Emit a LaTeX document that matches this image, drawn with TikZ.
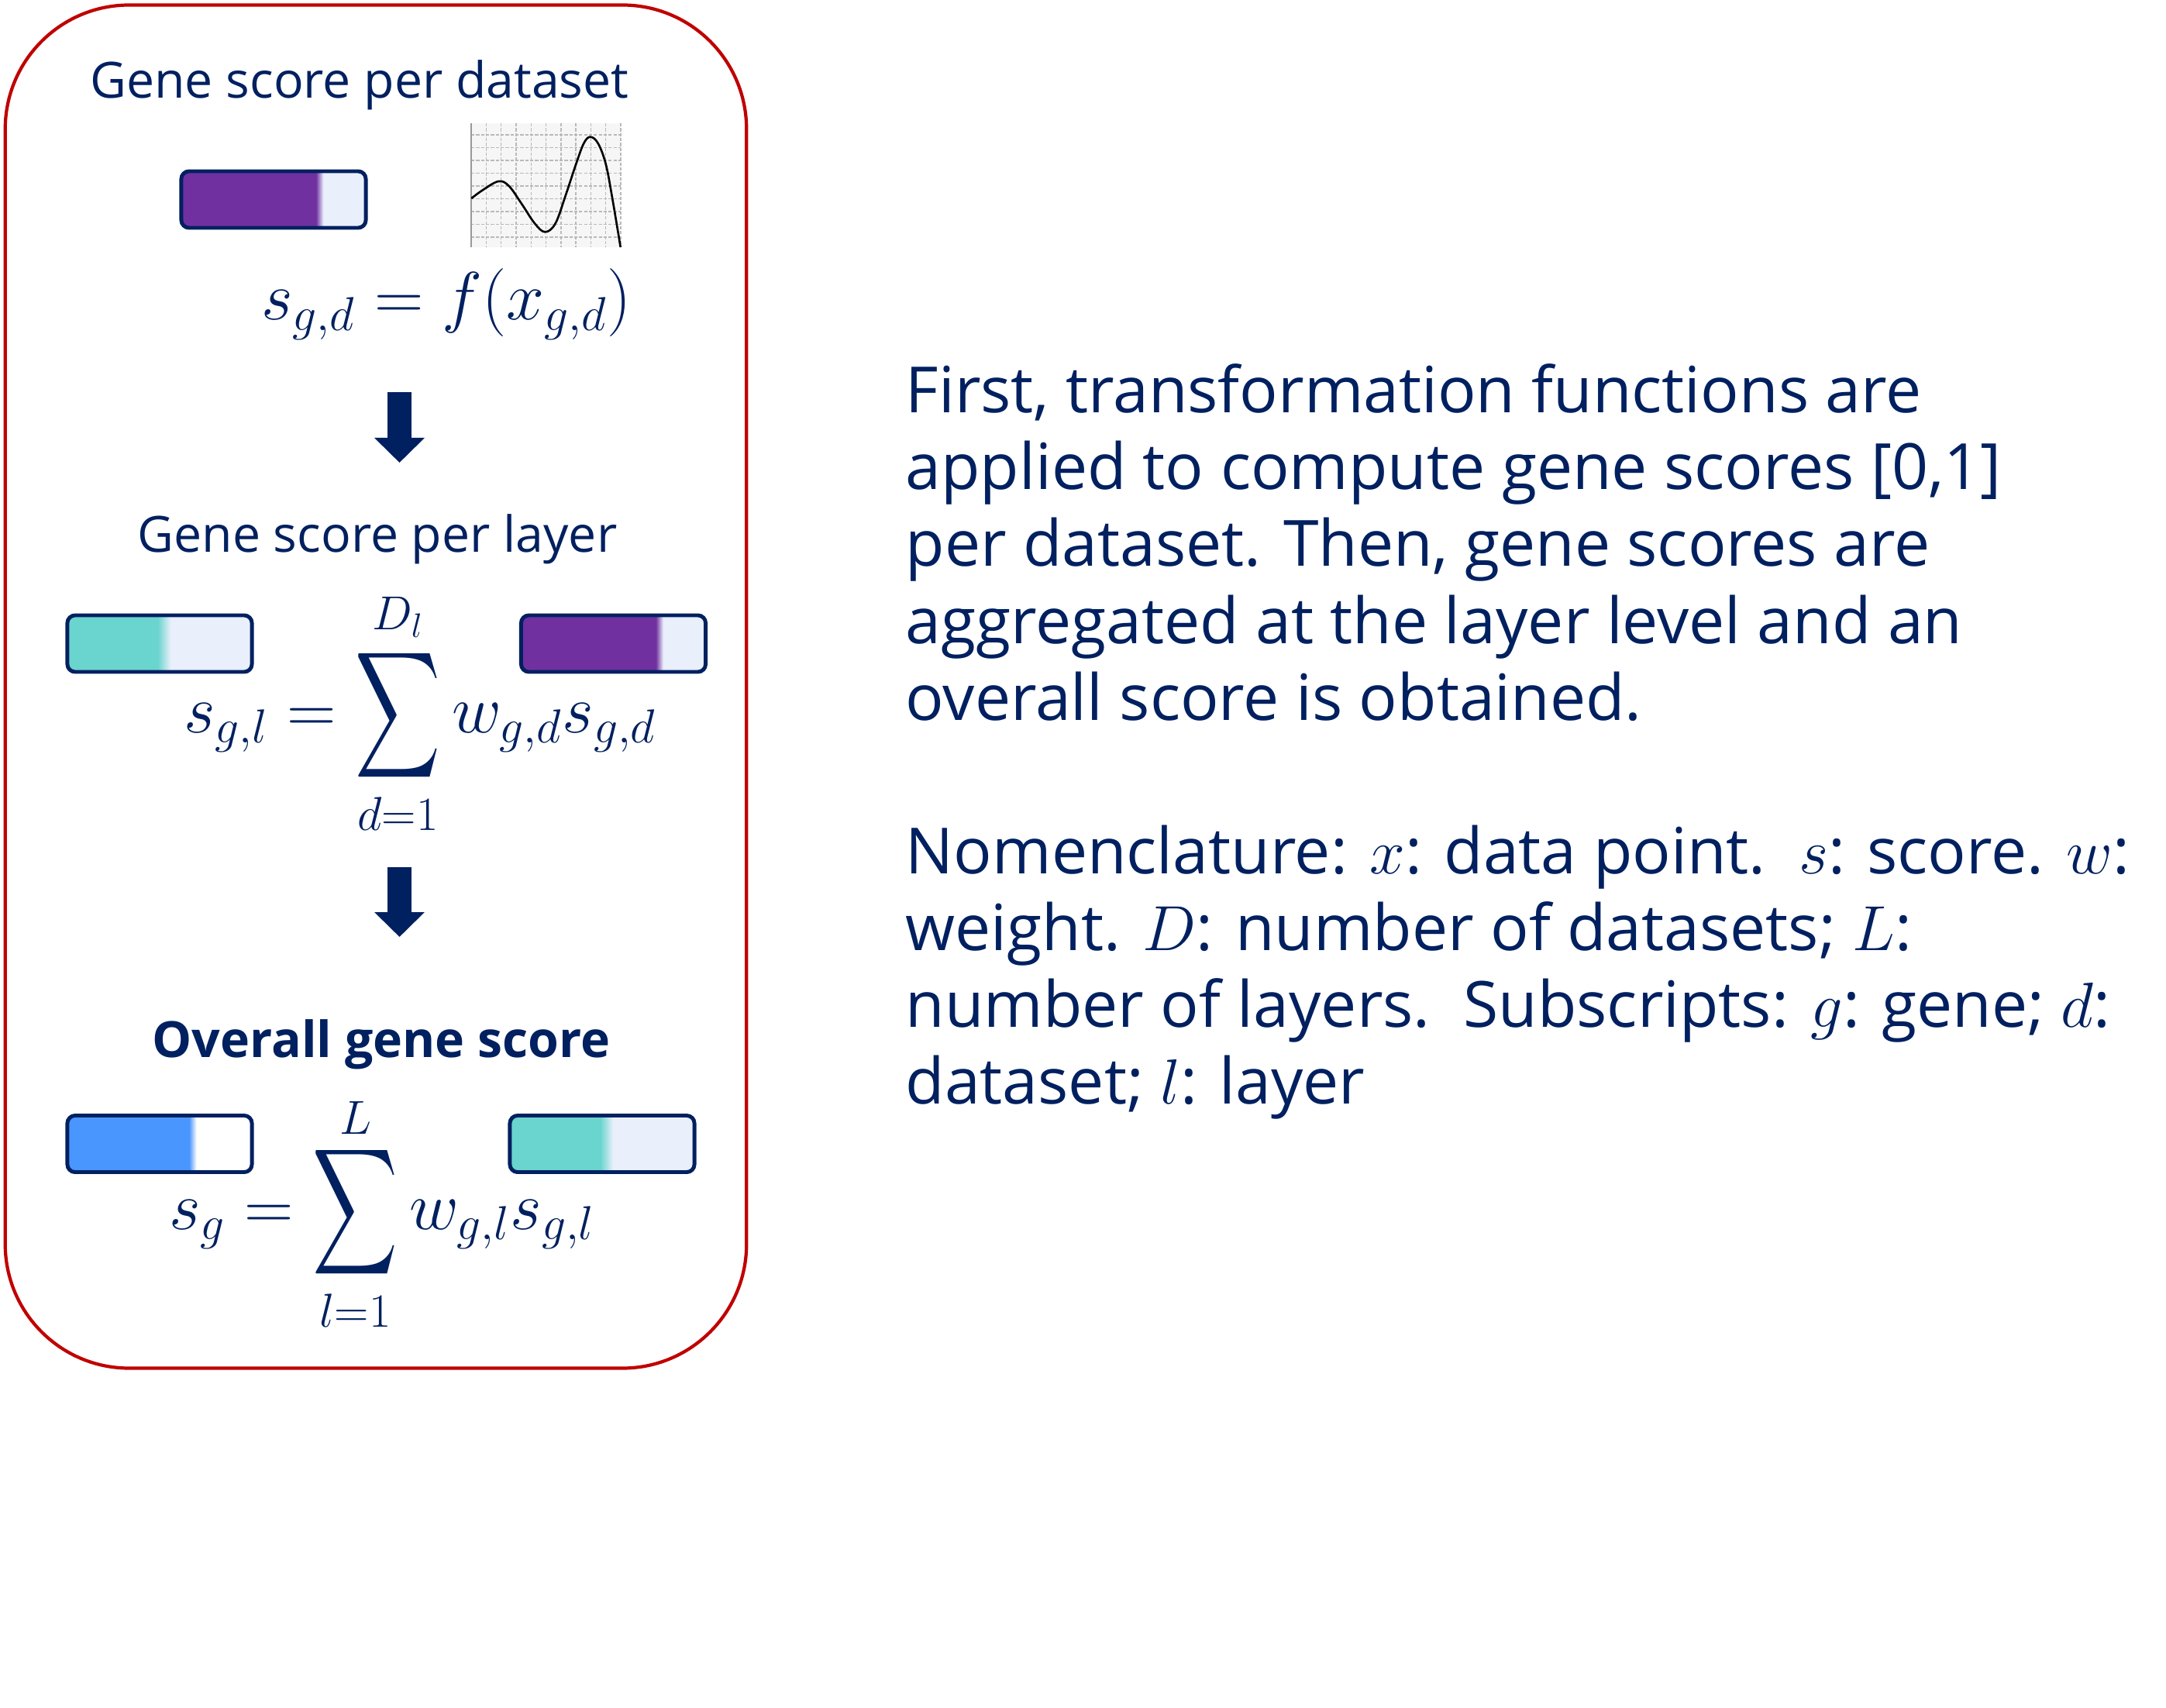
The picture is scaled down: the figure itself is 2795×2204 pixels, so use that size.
\RequirePackage{fix-cm}
\documentclass[tikz,border=0pt]{standalone}
\usepackage{amsmath}
\usepackage{graphicx}
\usepackage[no-math]{fontspec}
\setmainfont{Open Sans}
\usetikzlibrary{arrows.meta}
\definecolor{navy}{HTML}{002060}
\definecolor{framered}{HTML}{C00000}
\definecolor{barpurple}{HTML}{7030A0}
\definecolor{barteal}{HTML}{6AD4CE}
\definecolor{barblue}{HTML}{4A96FF}
\definecolor{barlight}{HTML}{E9EFFB}
\definecolor{graphbg}{HTML}{F6F6F6}
\pgfdeclarehorizontalshading{shpurple}{100bp}{color(0bp)=(barpurple); color(61.5bp)=(barpurple); color(63.5bp)=(barlight); color(100bp)=(barlight)}
\pgfdeclarehorizontalshading{shteal}{100bp}{color(0bp)=(barteal); color(49.5bp)=(barteal); color(53bp)=(barlight); color(100bp)=(barlight)}
\pgfdeclarehorizontalshading{shblue}{100bp}{color(0bp)=(barblue); color(58bp)=(barblue); color(60bp)=(white); color(100bp)=(white)}
\newcommand\tallsum[4]{\mathop{\vcenter{\hbox{\scalebox{0.87}[1.3]{$\displaystyle\sum$}}}}\limits_{\raisebox{#3}[0pt][0pt]{$\scriptstyle #1$}}^{\raisebox{#4}[0pt][0pt]{$\scriptstyle #2$}}}
\tikzset{
  frame/.style={draw=framered, line width=1.2pt, rounded corners=1.6cm, minimum width=9.56cm, minimum height=17.58cm, inner sep=0pt},
  title/.style={text=navy, font=\fontsize{18.3}{22}\selectfont, inner sep=0pt},
  boldtitle/.style={text=navy, font=\fontsize{18.3}{22}\selectfont\bfseries, inner sep=0pt},
  formula/.style={text=navy, font=\fontsize{25}{30}\selectfont, inner sep=0pt},
  bodyline/.style={text=navy, font=\fontsize{23.4}{28}\selectfont, inner sep=0pt, anchor=base west},
  scorebar/.style={draw=navy, line width=1.4pt, rounded corners=0.1cm, minimum width=2.38cm, minimum height=0.73cm, inner sep=0pt, shade, shading=#1},
  blockarrow/.style={draw=navy, line width=8.8pt, -{Triangle[length=9.1pt,width=17.9pt]}},
  gridline/.style={draw=gray!55, line width=0.4pt, dash pattern=on 1.2pt off 0.6pt},
  axisline/.style={draw=gray!80, line width=0.6pt},
  curve/.style={draw=black, line width=0.75pt}
}
\begin{document}
\begin{tikzpicture}[x=0.01cm,y=-0.01cm]
\fill[white] (0,0) rectangle (2795,2204);
\useasboundingbox (0,0) rectangle (2795,2204);

\node[frame] (frame) at (485,886) {};

% stage 1
\node[title, anchor=base] (t1) at (464,127) {Gene score per dataset};
\node[scorebar=shpurple] (b1) at (353,257.5) {};
\fill[graphbg] (608,159) rectangle (801,319);
\foreach \i in {1,...,10} \draw[gridline] ({608+19.3*\i},159) -- ({608+19.3*\i},319);
\foreach \j in {0,...,8} \draw[gridline] (608,{174+16.5*\j}) -- (801,{174+16.5*\j});
\draw[axisline] (608,159) -- (608,319);
\draw[curve] plot[smooth, tension=0.6] coordinates {(608.3,256) (623.3,245) (643.3,234) (656.7,240) (673.3,263.3) (690,288.3) (703.3,299.3) (716.7,288.3) (730,251.7) (743.3,211.7) (753.3,185) (761.7,176.7) (771.7,185) (781.7,211.7) (790,255) (800.7,319)};
\node[formula, anchor=base] (f1) at (576,413) {$s_{g,d} = f(x_{g,d})$};

\coordinate (a1top) at (515.5,506);
\coordinate (a1tip) at (515.5,597);
\draw[blockarrow] (a1top) -- (a1tip);

% stage 2
\node[title, anchor=base] (t2) at (487,713) {Gene score per layer};
\node[scorebar=shteal] (b2) at (206,830.5) {};
\node[scorebar=shpurple] (b3) at (791.5,830.5) {};
\node[formula, anchor=base] (f2) at (542,945) {$\displaystyle s_{g,l} = \tallsum{d=1}{D_l}{11pt}{-8pt} w_{g,d}s_{g,d}$};

\coordinate (a2top) at (515.5,1119);
\coordinate (a2tip) at (515.5,1209);
\draw[blockarrow] (a2top) -- (a2tip);

% stage 3
\node[boldtitle, anchor=base] (t3) at (492,1364) {Overall gene score};
\node[scorebar=shblue] (b4) at (206,1476) {};
\node[scorebar=shteal] (b5) at (777,1476) {};
\node[formula, anchor=base] (f3) at (493,1586) {$\displaystyle s_g = \tallsum{l=1}{L}{6.5pt}{-7.5pt} w_{g,l}s_{g,l}$};

% right text
\node[bodyline] (r1) at (1168,533) {First, transformation functions are};
\node[bodyline] (r2) at (1168,632) {applied to compute gene scores [0,1]};
\node[bodyline] (r3) at (1168,731) {per dataset. Then, gene scores are};
\node[bodyline] (r4) at (1168,830) {aggregated at the layer level and an};
\node[bodyline] (r5) at (1168,929) {overall score is obtained.};
\node[bodyline] (r6) at (1168,1127) {Nomenclature: $x$: data point.\ \ $s$: score. $w$:};
\node[bodyline] (r7) at (1168,1226) {weight. $D$: number of datasets; $L$:};
\node[bodyline] (r8) at (1168,1325) {number of layers.\ \ Subscripts: $g$: gene; $d$:};
\node[bodyline] (r9) at (1168,1424) {dataset; $l$: layer};
\end{tikzpicture}
\end{document}
